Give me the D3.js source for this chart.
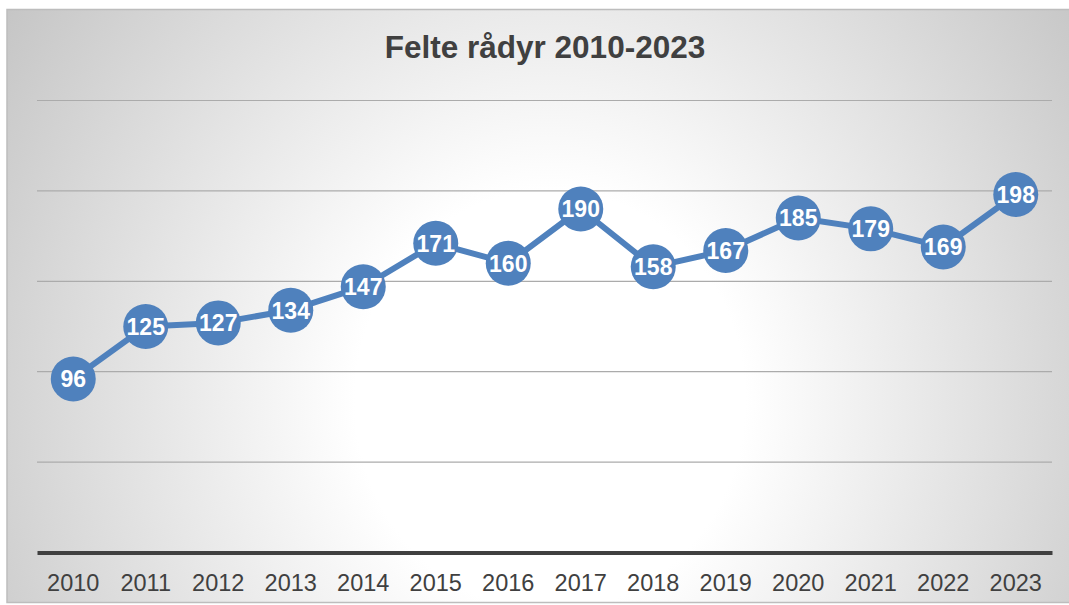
<!DOCTYPE html>
<html>
<head>
<meta charset="utf-8">
<script src="https://cdn.jsdelivr.net/npm/d3@7"></script>
<style>
    body { margin: 0; background: #ffffff; }
    svg { display: block; }
</style>
</head>
<body>
<svg id="svgChart" width="1069" height="605"></svg>
<script>
// Felte rådyr per år
var years = ['2010', '2011', '2012', '2013', '2014', '2015', '2016',
             '2017', '2018', '2019', '2020', '2021', '2022', '2023'];
var felled = [96, 125, 127, 134, 147, 171, 160, 190, 158, 167, 185, 179, 169, 198];
var gridValues = [0, 50, 100, 150, 200, 250];
var chartTitle = 'Felte rådyr 2010-2023';

var svgChart = d3.select('#svgChart');
var lineColor = '#4f81bd';
var fontFamily = '"Liberation Sans", Arial, sans-serif';

// Background gradient, white in the middle and grey towards the edges
var defs = svgChart.append('defs');
var grad = defs.append('radialGradient')
    .attr('id', 'bgGrad')
    .attr('gradientUnits', 'userSpaceOnUse')
    .attr('cx', 0).attr('cy', 0).attr('r', 1)
    .attr('gradientTransform', 'translate(550, 400) scale(650, 700)');
grad.append('stop').attr('offset', 0.3).attr('stop-color', '#ffffff');
grad.append('stop').attr('offset', 1).attr('stop-color', '#c6c6c6');

svgChart.append('rect')
    .attr('x', 7)
    .attr('y', 9.5)
    .attr('width', 1070)
    .attr('height', 593)
    .style('fill', 'url(#bgGrad)')
    .style('stroke', '#bdbdbd')
    .style('stroke-width', 1.5);

// Title
svgChart.append('text')
    .attr('x', 545)
    .attr('y', 58)
    .attr('text-anchor', 'middle')
    .attr('font-family', fontFamily)
    .attr('font-size', 31.5)
    .style('font-weight', 'bold')
    .attr('fill', '#404040')
    .text(chartTitle);

// Scales
var xScale = d3.scaleBand()
    .domain(years)
    .range([37, 1052]);
var yScale = d3.scaleLinear()
    .domain([0, 250])
    .range([552.5, 100.5]);

// Gridlines
svgChart.append('g')
    .selectAll('line.grid')
    .data(gridValues.filter(function (d) { return d > 0; }))
    .enter()
  .append('line')
    .attr('class', 'grid')
    .attr('x1', xScale.range()[0])
    .attr('x2', xScale.range()[1])
    .attr('y1', function (d) { return yScale(d); })
    .attr('y2', function (d) { return yScale(d); })
    .style('stroke', '#ababab')
    .style('stroke-width', 1.2);

// X axis
var xAxis = svgChart.append('g')
    .attr('transform', 'translate(0,' + yScale(0) + ')')
    .call(d3.axisBottom(xScale).tickSize(0).tickPadding(22));
xAxis.select('.domain')
    .style('stroke', '#404040')
    .style('stroke-width', 4);
xAxis.selectAll('text')
    .attr('font-family', fontFamily)
    .attr('font-size', 23.5)
    .attr('fill', '#404040');

// Line
var xCenter = function (d, i) { return xScale(years[i]) + xScale.bandwidth() / 2; };
var line = d3.line()
    .x(xCenter)
    .y(function (d) { return yScale(d); });

svgChart.append('path')
    .datum(felled)
    .attr('d', line)
    .style('fill', 'none')
    .style('stroke', lineColor)
    .style('stroke-width', 6)
    .style('stroke-linejoin', 'round');

// Markers with value labels
var points = svgChart.append('g')
    .selectAll('g.point')
    .data(felled)
    .enter()
  .append('g')
    .attr('class', 'point')
    .attr('transform', function (d, i) {
        return 'translate(' + xCenter(d, i) + ',' + yScale(d) + ')';
    });

points.append('circle')
    .attr('r', 22.5)
    .style('fill', lineColor);

points.append('text')
    .attr('text-anchor', 'middle')
    .attr('dy', '0.36em')
    .attr('font-family', fontFamily)
    .attr('font-size', 23)
    .style('font-weight', 'bold')
    .attr('fill', '#ffffff')
    .text(function (d) { return d; });
</script>
</body>
</html>
